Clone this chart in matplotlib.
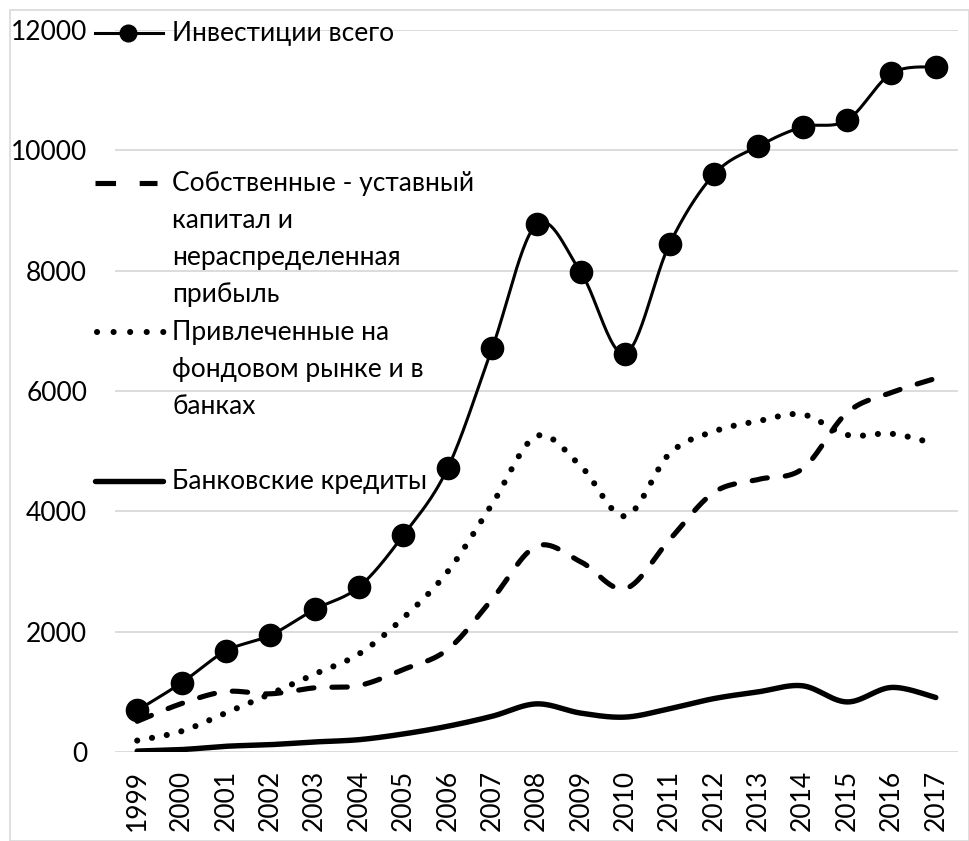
import numpy as np
import matplotlib.pyplot as plt
from matplotlib.patches import Rectangle
from matplotlib.lines import Line2D

plt.rcParams['font.family'] = ['Lato', 'Noto Sans', 'DejaVu Sans']

years = [str(y) for y in range(1999, 2018)]
invest_total = [690, 1150, 1680, 1940, 2370, 2745, 3605, 4720, 6710, 8770,
                7970, 6620, 8445, 9600, 10070, 10390, 10500, 11280, 11390]
own_funds = [510, 805, 1005, 967, 1067, 1105, 1372, 1705, 2540, 3420,
             3160, 2715, 3530, 4315, 4530, 4710, 5640, 5975, 6210]
attracted = [190, 345, 650, 965, 1295, 1630, 2230, 3000, 4120, 5250,
             4750, 3920, 4960, 5330, 5500, 5610, 5270, 5290, 5120]
bank_loans = [15, 40, 95, 122, 167, 205, 300, 428, 594, 800,
              646, 580, 720, 888, 1000, 1100, 832, 1073, 905]

labels = ["Инвестиции всего",
          "Собственные - уставный\nкапитал и\nнераспределенная\nприбыль",
          "Привлеченные на\nфондовом рынке и в\nбанках",
          "Банковские кредиты"]

W, H = 969, 841


def px(x, y):
    return x / W, 1 - y / H


def smooth(xs, ys, steps=30):
    # excel-like smoothed line (cubic bezier through each point)
    pts = np.column_stack([xs, ys]).astype(float)
    n = len(pts)
    t = np.linspace(0, 1, steps)[:, None]
    out = [pts[:1]]
    for i in range(n - 1):
        p0 = pts[i - 1] if i > 0 else pts[i]
        p1 = pts[i]
        p2 = pts[i + 1]
        p3 = pts[i + 2] if i + 2 < n else pts[i + 1]
        c1 = p1 + (p2 - p0) / 6
        c2 = p2 - (p3 - p1) / 6
        seg = ((1 - t) ** 3) * p1 + 3 * ((1 - t) ** 2) * t * c1 \
            + 3 * (1 - t) * t ** 2 * c2 + t ** 3 * p2
        out.append(seg[1:])
    c = np.vstack(out)
    return c[:, 0], c[:, 1]


fig = plt.figure(figsize=(W / 100, H / 100), dpi=100)
ax = fig.add_axes([115 / W, 1 - 752 / H, (958 - 115) / W, (752 - 30) / H])

x = np.arange(len(years))

sx, sy = smooth(x, invest_total)
ax.plot(sx, sy, color='black', lw=2.2, zorder=3)
ax.plot(x, invest_total, 'o', color='black', markersize=16, zorder=4)

sx, sy = smooth(x, own_funds)
ax.plot(sx, sy, color='black', lw=3.7, ls=(0, (3.0, 3.5)),
        dash_capstyle='round', zorder=3)

sx, sy = smooth(x, attracted)
ax.plot(sx, sy, color='black', lw=4.4, ls=(0, (0.01, 2.45)),
        dash_capstyle='round', zorder=3)

sx, sy = smooth(x, bank_loans)
ax.plot(sx, sy, color='black', lw=3.9, solid_capstyle='round', zorder=3)

ax.set_xlim(-0.5, len(years) - 0.5)
ax.set_ylim(0, 12000)
ax.set_yticks(range(0, 12001, 2000))
ax.set_xticks(x)
ax.set_xticklabels(years, rotation=90)
ax.tick_params(axis='y', length=0, pad=20, labelsize=19)
ax.tick_params(axis='x', length=0, pad=13, labelsize=19)
ax.grid(axis='y', color='#d9d9d9', lw=1.3)
ax.set_axisbelow(True)
for s in ax.spines.values():
    s.set_visible(False)

# legend drawn by hand, handles aligned with first text line
handle_y = [33, 183, 332, 481]
for i, (lab, hy) in enumerate(zip(labels, handle_y)):
    x0, y0 = px(95, hy)
    x1, _ = px(163, hy)
    if i == 0:
        fig.add_artist(Line2D([x0, x1], [y0, y0], color='black', lw=2.2,
                              transform=fig.transFigure))
        fig.add_artist(Line2D([px(128, hy)[0]], [y0], marker='o', color='black',
                              markersize=12, transform=fig.transFigure))
    elif i == 1:
        fig.add_artist(Line2D([x0, px(157, hy)[0]], [y0, y0], color='black', lw=3.7,
                              ls=(0, (4.0, 4.6)), dash_capstyle='butt',
                              transform=fig.transFigure))
    elif i == 2:
        fig.add_artist(Line2D([px(97, hy)[0], px(164, hy)[0]], [y0, y0], color='black',
                              lw=4.4, ls=(0, (0.01, 2.7)), dash_capstyle='round',
                              transform=fig.transFigure))
    else:
        fig.add_artist(Line2D([x0, x1], [y0, y0], color='black', lw=3.9,
                              solid_capstyle='round', transform=fig.transFigure))
    tx, ty = px(172, hy - 12)
    fig.text(tx, ty, lab, fontsize=19, va='top', ha='left', linespacing=1.6)

fig.add_artist(Rectangle(px(10, 841), (W - 10) / W, (841 - 10) / H, fill=False,
                         edgecolor='#d9d9d9', lw=1.2, transform=fig.transFigure))

fig.savefig('out.png', dpi=100)
